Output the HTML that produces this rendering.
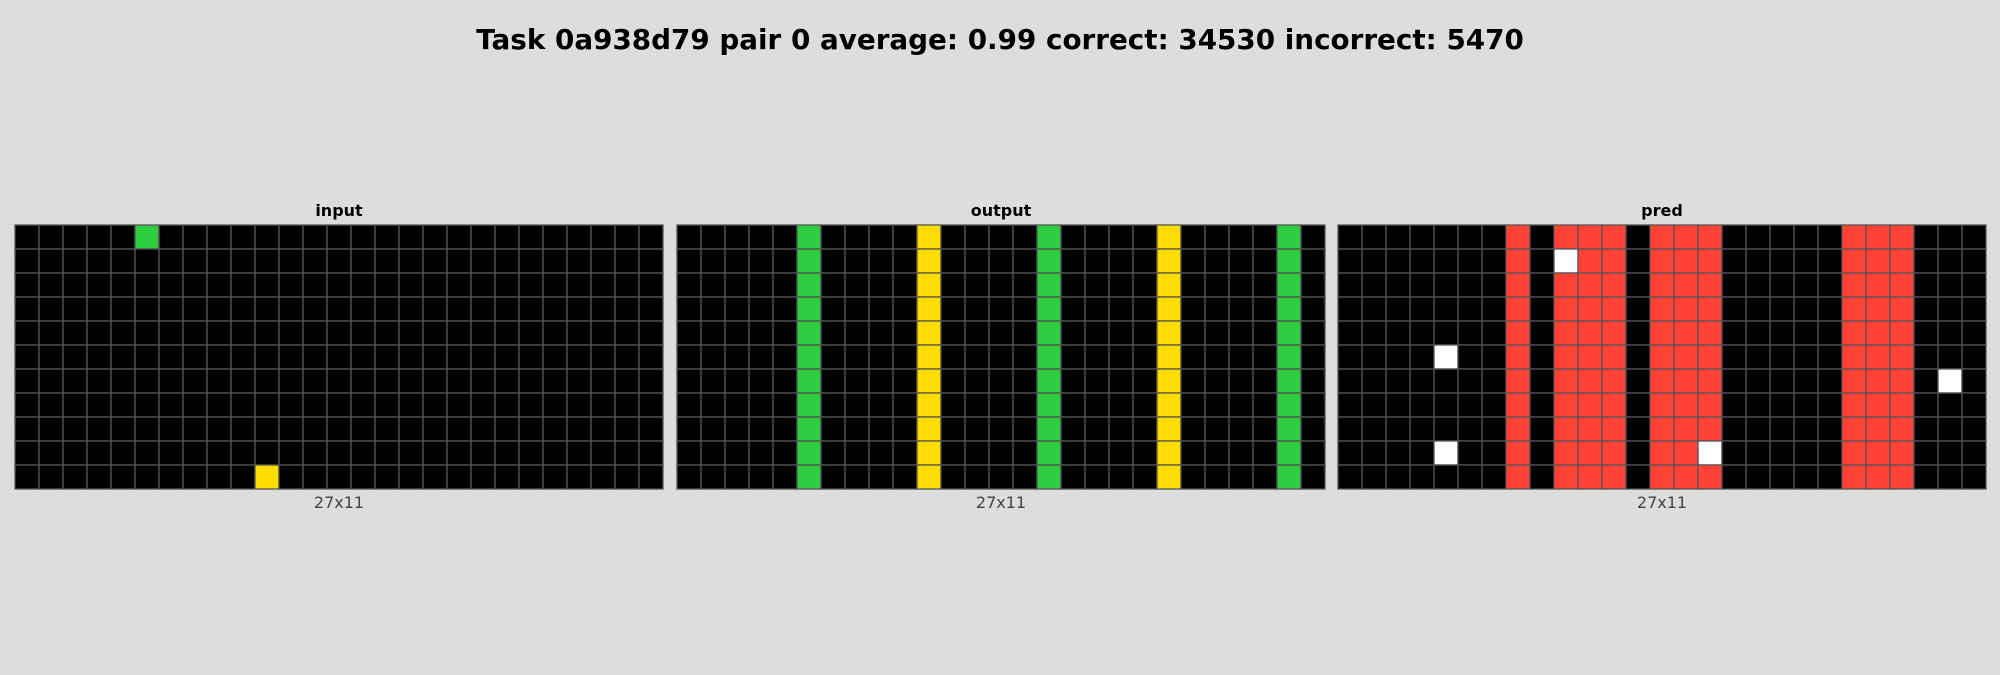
<!DOCTYPE html>
<html><head><meta charset="utf-8">
<style>
html,body{margin:0;padding:0;background:#dddddd;}
body{width:2000px;height:671px;overflow:hidden;font-family:"DejaVu Sans","Liberation Sans",sans-serif;}
</style></head>
<body>
<svg id="fig" width="2000" height="671" xmlns="http://www.w3.org/2000/svg">
<rect width="2000" height="671" fill="#dddddd"/>
<text x="1000" y="49" text-anchor="middle" font-size="27.8" font-weight="bold" fill="#000">Task 0a938d79 pair 0 average: 0.99 correct: 34530 incorrect: 5470</text>
<g id="panels"></g>
</svg>
<script>
const panelTitles = ["input", "output", "pred"];
const gridSizeLabel = "27x11";
const palette = ["#000000","#0074D9","#FF4136","#2ECC40","#FFDC00","#AAAAAA","#F012BE","#FF851B","#7FDBFF","#870C25","#FFFFFF"];
// sparse cells: [row, col, colorIndex]
const inputCells = [[0,5,3],[10,10,4]];
const outputCols = [[5,3],[10,4],[15,3],[20,4],[25,3]];
const predRedCols = [7,9,10,11,13,14,15,21,22,23];
const predWhite = [[1,9],[5,4],[6,25],[9,4],[9,15]];
const ROWS = 11, COLS = 27;

function blank(){return Array.from({length:ROWS},()=>Array(COLS).fill(0));}
const gIn = blank(); inputCells.forEach(([r,c,v])=>gIn[r][c]=v);
const gOut = blank(); outputCols.forEach(([c,v])=>{for(let r=0;r<ROWS;r++)gOut[r][c]=v;});
const gPred = blank(); predRedCols.forEach(c=>{for(let r=0;r<ROWS;r++)gPred[r][c]=2;});
predWhite.forEach(([r,c])=>gPred[r][c]=10);
const grids=[gIn,gOut,gPred];

const NS="http://www.w3.org/2000/svg";
const panelX=[15,677,1338], gridTop=225, cell=24;
const root=document.getElementById('panels');
function mk(tag,attrs){const e=document.createElementNS(NS,tag);for(const k in attrs)e.setAttribute(k,attrs[k]);return e;}
grids.forEach((g,p)=>{
  const x0=panelX[p];
  const grp=mk('g',{});
  
  
  const t=mk('text',{x:x0+COLS*cell/2,y:gridTop-9,'text-anchor':'middle','font-size':'16','font-weight':'bold',fill:'#000'});
  t.textContent=panelTitles[p];
  
  
  grp.appendChild(t);
  const bg=mk('rect',{x:x0,y:gridTop,width:COLS*cell,height:ROWS*cell,fill:'#000'});
  
  
  grp.appendChild(bg);
  for(let r=0;r<ROWS;r++)for(let c=0;c<COLS;c++){
    const v=g[r][c];
    const rc=mk('rect',{x:x0+c*cell,y:gridTop+r*cell,width:cell,height:cell,fill:palette[v],stroke:'#555','stroke-width':'1.3'});
    
    
    grp.appendChild(rc);
  }
  const l=mk('text',{x:x0+COLS*cell/2,y:gridTop+ROWS*cell+19,'text-anchor':'middle','font-size':'16',fill:'#444'});
  l.textContent=gridSizeLabel;
  
  
  grp.appendChild(l);
  root.appendChild(grp);
});
</script>
</body></html>
